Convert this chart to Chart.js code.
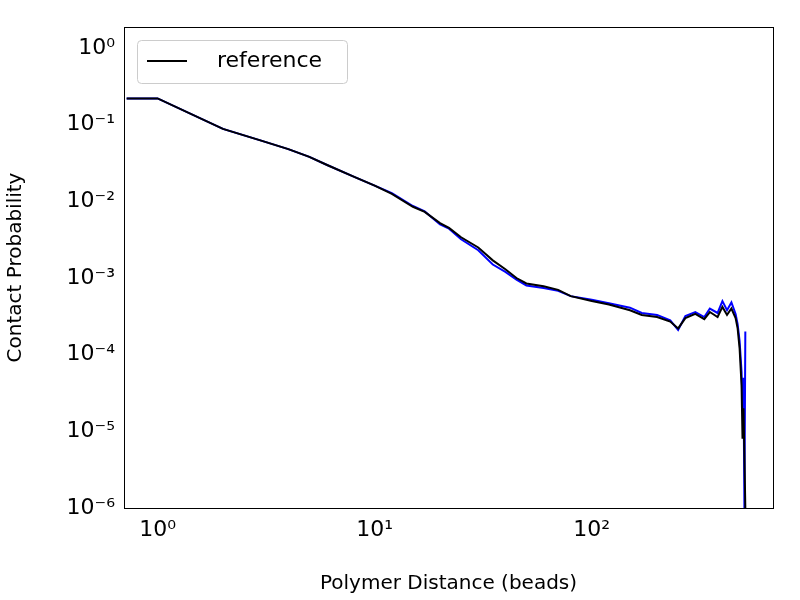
<!DOCTYPE html>
<html><head><meta charset="utf-8">
<script src="https://cdn.jsdelivr.net/npm/chart.js@4/dist/chart.umd.min.js"></script>
<style>body{margin:0;background:#fff}</style>
</head><body><canvas id="c" width="800" height="600"></canvas>
<script>
const xs = [0.72,1,2,3,4,5,6,8,10,12,15,17,20,22,25,30,35,40,45,50,60,70,80,100,120,150,170,200,230,250,270,300,330,350,380,400,420,440,460,470,480,490,495,500,505,510];
const refVals = [0.22,0.22,0.088,0.062,0.048,0.038,0.030,0.021,0.016,0.0125,0.0085,0.0073,0.0052,0.0045,0.0034,0.0025,0.0017,0.0013,0.0010,0.00085,0.00078,0.00070,0.00058,0.00050,0.00045,0.00038,0.00033,0.00031,0.00027,0.00022,0.00030,0.00034,0.00029,0.00036,0.00031,0.00042,0.00033,0.00040,0.00030,0.00022,0.00012,0.00004,0.000008,0.00002,0.000005,0.000001];
const blueVals = [0.22,0.22,0.088,0.062,0.048,0.038,0.030,0.021,0.016,0.0128,0.0087,0.0074,0.0050,0.0044,0.0032,0.0023,0.0015,0.0012,0.00095,0.00080,0.00074,0.00068,0.00058,0.00052,0.00047,0.00041,0.00035,0.00033,0.00028,0.00021,0.00032,0.00036,0.00031,0.00040,0.00035,0.00050,0.00038,0.00048,0.00034,0.00025,0.00015,0.00006,0.00002,0.00005,0.000001,0.0002];
const xTicks = [1,10,100];
const yTicks = [1e-6,1e-5,1e-4,1e-3,1e-2,1e-1,1];
const sup = {'-':'⁻','0':'⁰','1':'¹','2':'²','3':'³','4':'⁴','5':'⁵','6':'⁶'};
const lab = v => '10' + String(Math.round(Math.log10(v))).split('').map(c=>sup[c]).join('');
const pts = vals => xs.map((x,i)=>({x, y: vals[i]}));
const legendPlugin = {id:'lg', afterDraw(ch){const c=ch.ctx;c.save();
  c.fillStyle='#fff';c.strokeStyle='#ccc';c.lineWidth=1;
  c.beginPath();c.roundRect(137.5,40.5,210,43,4);c.fill();c.stroke();
  c.strokeStyle='#000';c.lineWidth=2;c.beginPath();c.moveTo(147,61);c.lineTo(187,61);c.stroke();
  c.fillStyle='#000';c.font='22px "DejaVu Sans"';c.textBaseline='middle';c.fillText('reference',217,61);c.restore();}};
new Chart(document.getElementById('c'), {
  type:'line',
  data:{datasets:[
    {label:'reference', data:pts(refVals), borderColor:'#000', borderWidth:2, pointRadius:0, tension:0},
    {label:'model', data:pts(blueVals), borderColor:'#0000ff', borderWidth:2, pointRadius:0, tension:0}
  ]},
  options:{responsive:false, animation:false, devicePixelRatio:1,
    layout:{padding:{top:27,right:27,left:0,bottom:0}},
    plugins:{legend:{display:false}, tooltip:{enabled:false}},
    scales:{
      x:{type:'logarithmic', min:0.72, max:684, grid:{display:false, tickLength:6},
        border:{color:'#000', width:1},
        afterBuildTicks:a=>{a.ticks=xTicks.map(v=>({value:v}));},
        afterFit:a=>{a.height=92;},
        ticks:{color:'#000', font:{family:'DejaVu Sans', size:22}, callback:v=>lab(v), maxRotation:0, autoSkip:false},
        title:{display:true, text:'Polymer Distance (beads)', color:'#000', font:{family:'DejaVu Sans', size:20}}},
      y:{type:'logarithmic', min:1e-6, max:1.88, grid:{display:false, tickLength:6},
        border:{color:'#000', width:1},
        afterBuildTicks:a=>{a.ticks=yTicks.map(v=>({value:v}));},
        afterFit:a=>{a.width=124;},
        ticks:{color:'#000', font:{family:'DejaVu Sans', size:22}, callback:v=>lab(v), autoSkip:false},
        title:{display:true, text:'Contact Probability', color:'#000', font:{family:'DejaVu Sans', size:20}}}
    }},
  plugins:[legendPlugin, {id:'frame', afterDraw(ch){const a=ch.chartArea,c=ch.ctx;c.save();c.strokeStyle='#000';c.lineWidth=1;c.strokeRect(a.left+0.5,a.top+0.5,a.right-a.left,a.bottom-a.top);c.restore();}}]
});
</script></body></html>
